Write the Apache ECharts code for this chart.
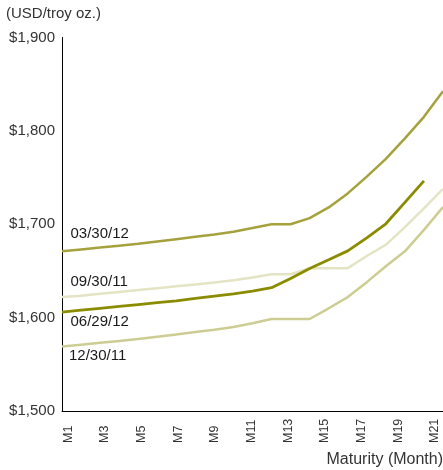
<!DOCTYPE html>
<html>
<head>
<meta charset="utf-8">
<script src="https://cdn.jsdelivr.net/npm/echarts@6/dist/echarts.min.js"></script>
<style>html,body{margin:0;padding:0;background:#fff}#c{width:443px;height:470px}</style>
</head>
<body>
<div id="c"></div>
<script>
var categories = ['M1','M2','M3','M4','M5','M6','M7','M8','M9','M10','M11','M12','M13','M14','M15','M16','M17','M18','M19','M20','M21'];
var s093011 = [1622,1623.5,1625.5,1627.5,1629.5,1631.5,1633.5,1635.5,1637.5,1640,1643,1646.5,1646.5,1653,1653,1653,1666,1678,1697,1717,1738];
var s123011 = [1569,1571,1573,1575,1577,1579.5,1582,1584.5,1587,1590,1594,1598.5,1598.5,1598.5,1610,1622,1638,1655,1671,1694,1718.5];
var s033012 = [1671,1673,1675,1677,1679,1681.5,1684,1686.5,1689,1692,1696,1700,1700,1706.5,1718,1733,1751,1770,1792,1815,1842.5];
var s062912 = [1606,1608,1610,1612,1614,1616,1618,1620.5,1623,1625.5,1628.5,1632,1642,1652.5,1662,1671.5,1685.5,1700.5,1723.5,1746.5,null];
var seriesNames = ['09/30/11','12/30/11','03/30/12','06/29/12'];
var yTicks = [1500,1600,1700,1800,1900];

var FONT = '"Liberation Sans", Arial, Helvetica, sans-serif';
var colors = ['#e4e4c4','#cdcd93','#a5a23d','#8b8b00'];
var widths = [2.5,2.5,2.5,2.8];
var labelOffsets = [[8,-15],[6.5,9.5],[8,-17.5],[8,10]];
var allData = [s093011, s123011, s033012, s062912];

function mkSeries(i){
  var d = allData[i].map(function(v, k){
    if (k === 0) {
      return {value: v, label: {show: true, position: 'right', distance: 0, offset: labelOffsets[i],
        formatter: seriesNames[i], color: '#1a1a1a', fontSize: 15, fontFamily: FONT}};
    }
    return v;
  });
  return {
    name: seriesNames[i], type: 'line', xAxisIndex: 0, yAxisIndex: 0,
    data: d, showSymbol: true, symbol: 'circle', symbolSize: 1,
    itemStyle: {color: 'rgba(0,0,0,0)'},
    lineStyle: {color: colors[i], width: widths[i]},
    label: {show: false},
    emphasis: {disabled: true},
    connectNulls: false, z: 2 + i
  };
}

var chart = echarts.init(document.getElementById('c'), null, {renderer: 'canvas'});
chart.setOption({
  animation: false,
  title: [
    {text: '(USD/troy oz.)', left: 6, top: 6, padding: 0,
     textStyle: {fontSize: 15, fontWeight: 'normal', color: '#333', fontFamily: FONT}},
    {text: 'Maturity (Month)', right: 0, top: 452, padding: 0,
     textStyle: {fontSize: 16, fontWeight: 'normal', color: '#333', fontFamily: FONT}}
  ],
  grid: [
    {left: 62, right: 0, top: 37.5, bottom: 59, containLabel: false},
    {left: 68.3, right: 8, top: 37.5, bottom: 59, containLabel: false}
  ],
  xAxis: [
    {type: 'category', gridIndex: 0, data: categories, boundaryGap: false,
     axisLine: {show: true, lineStyle: {color: '#000', width: 1}},
     axisTick: {show: false}, axisLabel: {show: false}, splitLine: {show: false}},
    {type: 'category', gridIndex: 1, data: categories, boundaryGap: false,
     axisLine: {show: false}, axisTick: {show: false}, splitLine: {show: false},
     axisLabel: {show: true, interval: 1, rotate: 90, align: 'left', verticalAlign: 'middle',
       margin: 32, fontSize: 12.5, color: '#333', fontFamily: FONT}}
  ],
  yAxis: [
    {type: 'value', gridIndex: 0, min: yTicks[0], max: yTicks[yTicks.length-1], interval: 100,
     axisLine: {show: true, lineStyle: {color: '#000', width: 1}},
     axisTick: {show: false}, splitLine: {show: false},
     axisLabel: {margin: 7, fontSize: 15, color: '#333', fontFamily: FONT,
       formatter: function(v){ return '$' + v.toLocaleString('en-US'); }}},
    {type: 'value', gridIndex: 1, show: false, min: 1500, max: 1900}
  ],
  series: [mkSeries(0), mkSeries(1), mkSeries(2), mkSeries(3)]
});
</script>
</body>
</html>
